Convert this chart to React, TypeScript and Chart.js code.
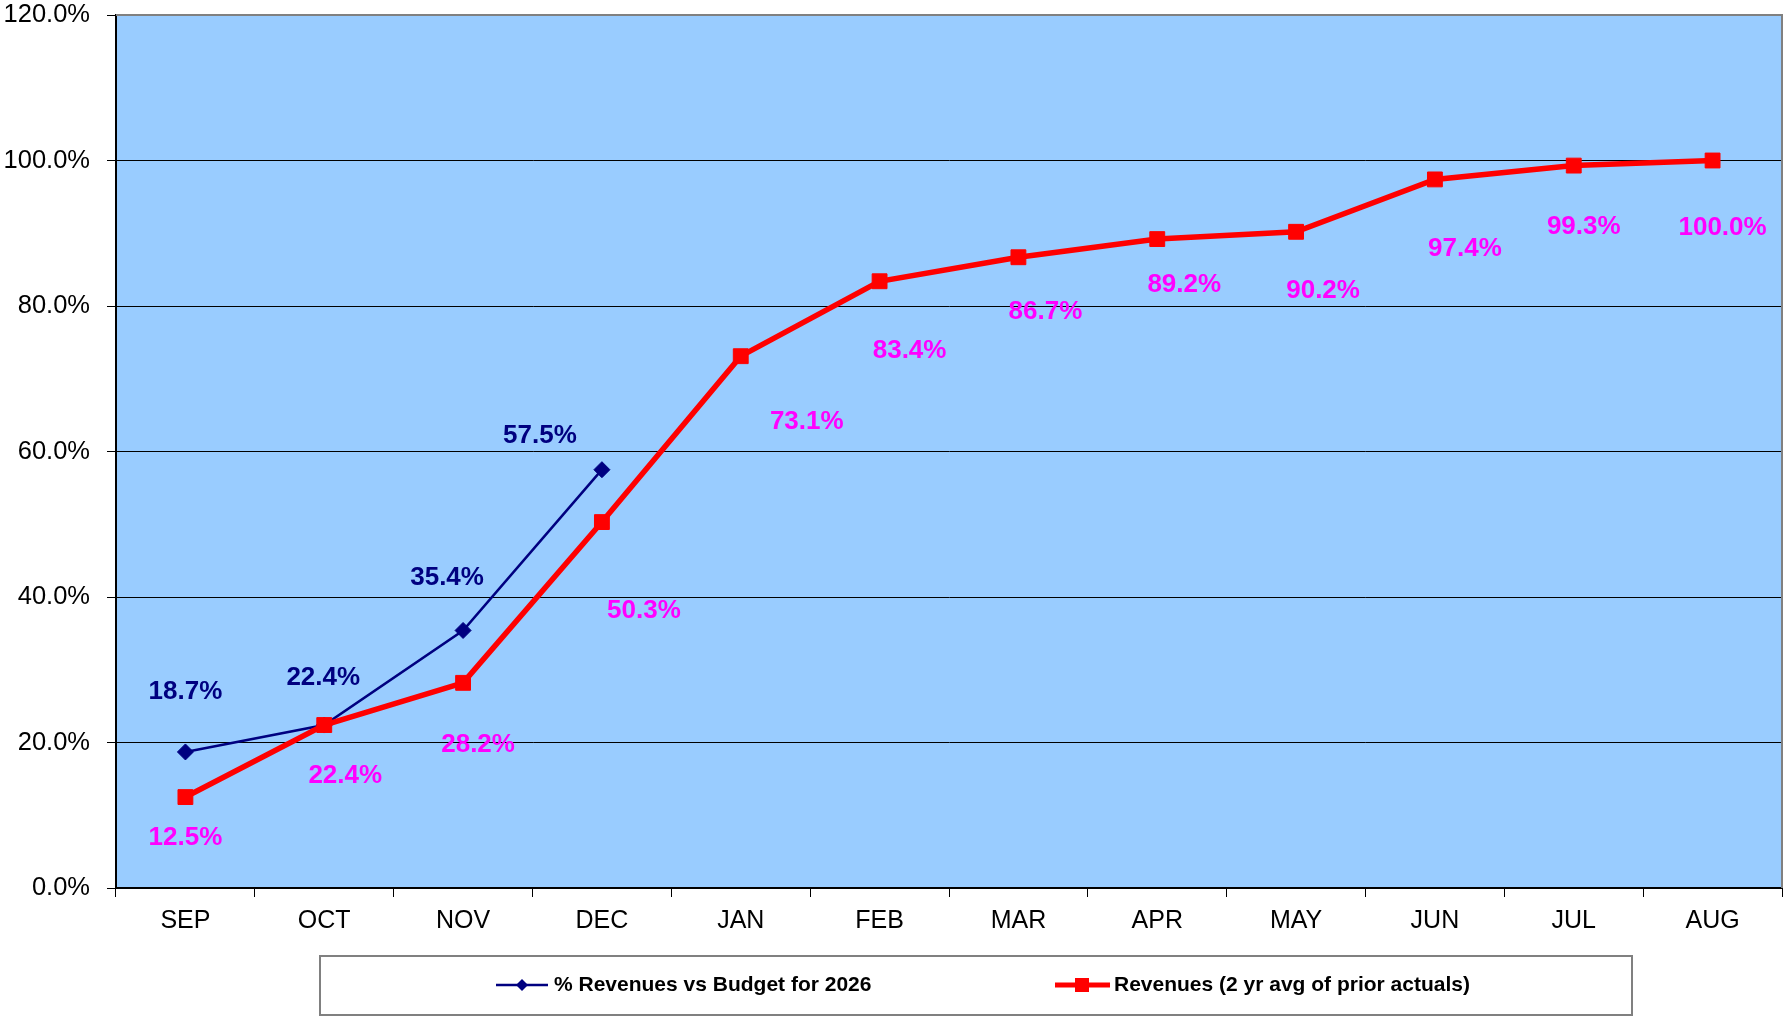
import React, { useEffect, useRef } from 'react';
import { Chart, registerables } from 'chart.js';

Chart.register(...registerables);

const months = ['SEP', 'OCT', 'NOV', 'DEC', 'JAN', 'FEB', 'MAR', 'APR', 'MAY', 'JUN', 'JUL', 'AUG'];
const budgetPct: (number | null)[] = [18.7, 22.4, 35.4, 57.5, null, null, null, null, null, null, null, null];
const priorAvgPct: number[] = [12.5, 22.4, 28.2, 50.3, 73.1, 83.4, 86.7, 89.2, 90.2, 97.4, 99.3, 100.0];
const seriesNames = ['% Revenues vs Budget for 2026', 'Revenues (2 yr avg of prior actuals)'];
const yMin = 0;
const yMax = 120;
const yStep = 20;

// label placement (style): pixel offsets of each data label from its point
const budgetLabelOffsets = [[0, -60], [-1, -47], [-16, -53], [-62, -34]];
const priorLabelOffsets = [[0, 41], [21, 51], [15, 62], [42, 89], [66, 66], [30, 70], [27, 55], [27, 46], [27, 59], [30, 69], [10, 61], [10, 67]];

const FONT = '"Liberation Sans", Arial, sans-serif';
const NAVY = '#000080';
const RED = '#FF0000';
const MAGENTA = '#FF00FF';

const fmt = (v: number) => v.toFixed(1) + '%';

const chartPlugin = {
  id: 'customDecor',
  beforeDraw(chart: any) {
    const { ctx, chartArea: a } = chart;
    ctx.save();
    ctx.fillStyle = '#99CCFF';
    ctx.fillRect(a.left, a.top, a.right - a.left, a.bottom - a.top);
    ctx.restore();
  },
  afterDatasetsDraw(chart: any) {
    const { ctx } = chart;
    ctx.save();
    ctx.font = `bold 26px ${FONT}`;
    ctx.textAlign = 'center';
    ctx.textBaseline = 'middle';
    const sets = [
      { idx: 0, color: NAVY, offs: budgetLabelOffsets },
      { idx: 1, color: MAGENTA, offs: priorLabelOffsets },
    ];
    sets.forEach(({ idx, color, offs }) => {
      const meta = chart.getDatasetMeta(idx);
      const data = chart.data.datasets[idx].data;
      ctx.fillStyle = color;
      meta.data.forEach((pt: any, i: number) => {
        const v = data[i];
        if (v === null || v === undefined) return;
        const o = offs[i] || [0, 0];
        ctx.fillText(fmt(v), pt.x + o[0], pt.y + o[1]);
      });
    });
    ctx.restore();
  },
  afterDraw(chart: any) {
    const { ctx, chartArea: a } = chart;
    ctx.save();
    // top & right plot border
    ctx.strokeStyle = '#808080';
    ctx.lineWidth = 2;
    ctx.beginPath();
    ctx.moveTo(a.left, a.top);
    ctx.lineTo(a.right, a.top);
    ctx.lineTo(a.right, a.bottom);
    ctx.stroke();

    // legend box
    ctx.strokeStyle = '#808080';
    ctx.lineWidth = 2;
    ctx.strokeRect(320, 956, 1312, 59);
    const ly = 985;
    // item 1
    ctx.strokeStyle = NAVY;
    ctx.lineWidth = 2.5;
    ctx.beginPath();
    ctx.moveTo(496, ly);
    ctx.lineTo(548, ly);
    ctx.stroke();
    ctx.fillStyle = NAVY;
    ctx.beginPath();
    ctx.moveTo(522 - 6, ly);
    ctx.lineTo(522, ly - 6);
    ctx.lineTo(522 + 6, ly);
    ctx.lineTo(522, ly + 6);
    ctx.closePath();
    ctx.fill();
    // item 2
    ctx.strokeStyle = RED;
    ctx.lineWidth = 5;
    ctx.beginPath();
    ctx.moveTo(1055, ly);
    ctx.lineTo(1110, ly);
    ctx.stroke();
    ctx.fillStyle = RED;
    ctx.fillRect(1082 - 7, ly - 7, 14, 14);

    ctx.fillStyle = '#000';
    ctx.font = `bold 21px ${FONT}`;
    ctx.textAlign = 'left';
    ctx.textBaseline = 'middle';
    ctx.fillText(seriesNames[0], 554, ly);
    ctx.fillText(seriesNames[1], 1114, ly);
    ctx.restore();
  },
};

function zeroPad(scale: any) {
  scale.paddingTop = 0;
  scale.paddingBottom = 0;
  scale.paddingLeft = 0;
  scale.paddingRight = 0;
}

export default function App() {
  const ref = useRef<HTMLCanvasElement | null>(null);
  useEffect(() => {
    document.body.style.margin = '0';
    const canvas = ref.current;
    if (!canvas) return;
    const chart = new Chart(canvas, {
      type: 'line',
      data: {
        labels: months,
        datasets: [
          {
            label: seriesNames[0],
            data: budgetPct,
            borderColor: NAVY,
            backgroundColor: NAVY,
            borderWidth: 2.5,
            pointStyle: 'rectRot',
            pointRadius: 8,
            pointBorderWidth: 1,
            pointBorderColor: NAVY,
            pointBackgroundColor: NAVY,
            tension: 0,
            order: 1,
          },
          {
            label: seriesNames[1],
            data: priorAvgPct,
            borderColor: RED,
            backgroundColor: RED,
            borderWidth: 5.5,
            pointStyle: 'rect',
            pointRadius: 10.5,
            pointBorderWidth: 1,
            pointBorderColor: RED,
            pointBackgroundColor: RED,
            tension: 0,
            order: 0,
          },
        ],
      },
      options: {
        animation: false,
        responsive: false,
        devicePixelRatio: 1,
        events: [],
        layout: { autoPadding: false, padding: { left: 0, top: 15, right: 2, bottom: 0 } },
        plugins: {
          legend: { display: false },
          tooltip: { enabled: false },
          title: { display: false },
        },
        scales: {
          x: {
            type: 'category',
            offset: true,
            grid: {
              offset: true,
              drawOnChartArea: false,
              drawTicks: true,
              tickLength: 9,
              color: '#000',
              lineWidth: 1,
            },
            border: { display: true, color: '#000', width: 2 },
            ticks: {
              color: '#000',
              font: { family: FONT, size: 25 },
              padding: 9,
              maxRotation: 0,
              autoSkip: false,
            },
            afterFit(scale: any) {
              scale.height = 128;
              zeroPad(scale);
            },
          },
          y: {
            min: yMin,
            max: yMax,
            grid: {
              color: '#000',
              lineWidth: 1,
              drawTicks: true,
              tickLength: 9,
            },
            border: { display: true, color: '#000', width: 2 },
            ticks: {
              stepSize: yStep,
              color: '#000',
              font: { family: FONT, size: 25.5 },
              padding: 17,
              callback: (v: any) => fmt(Number(v)),
            },
            afterFit(scale: any) {
              scale.width = 116;
              zeroPad(scale);
            },
          },
        },
      },
      plugins: [chartPlugin],
    });
    return () => chart.destroy();
  }, []);
  return (
    <canvas ref={ref} width={1784} height={1016} style={{ display: 'block', width: 1784, height: 1016 }} />
  );
}
